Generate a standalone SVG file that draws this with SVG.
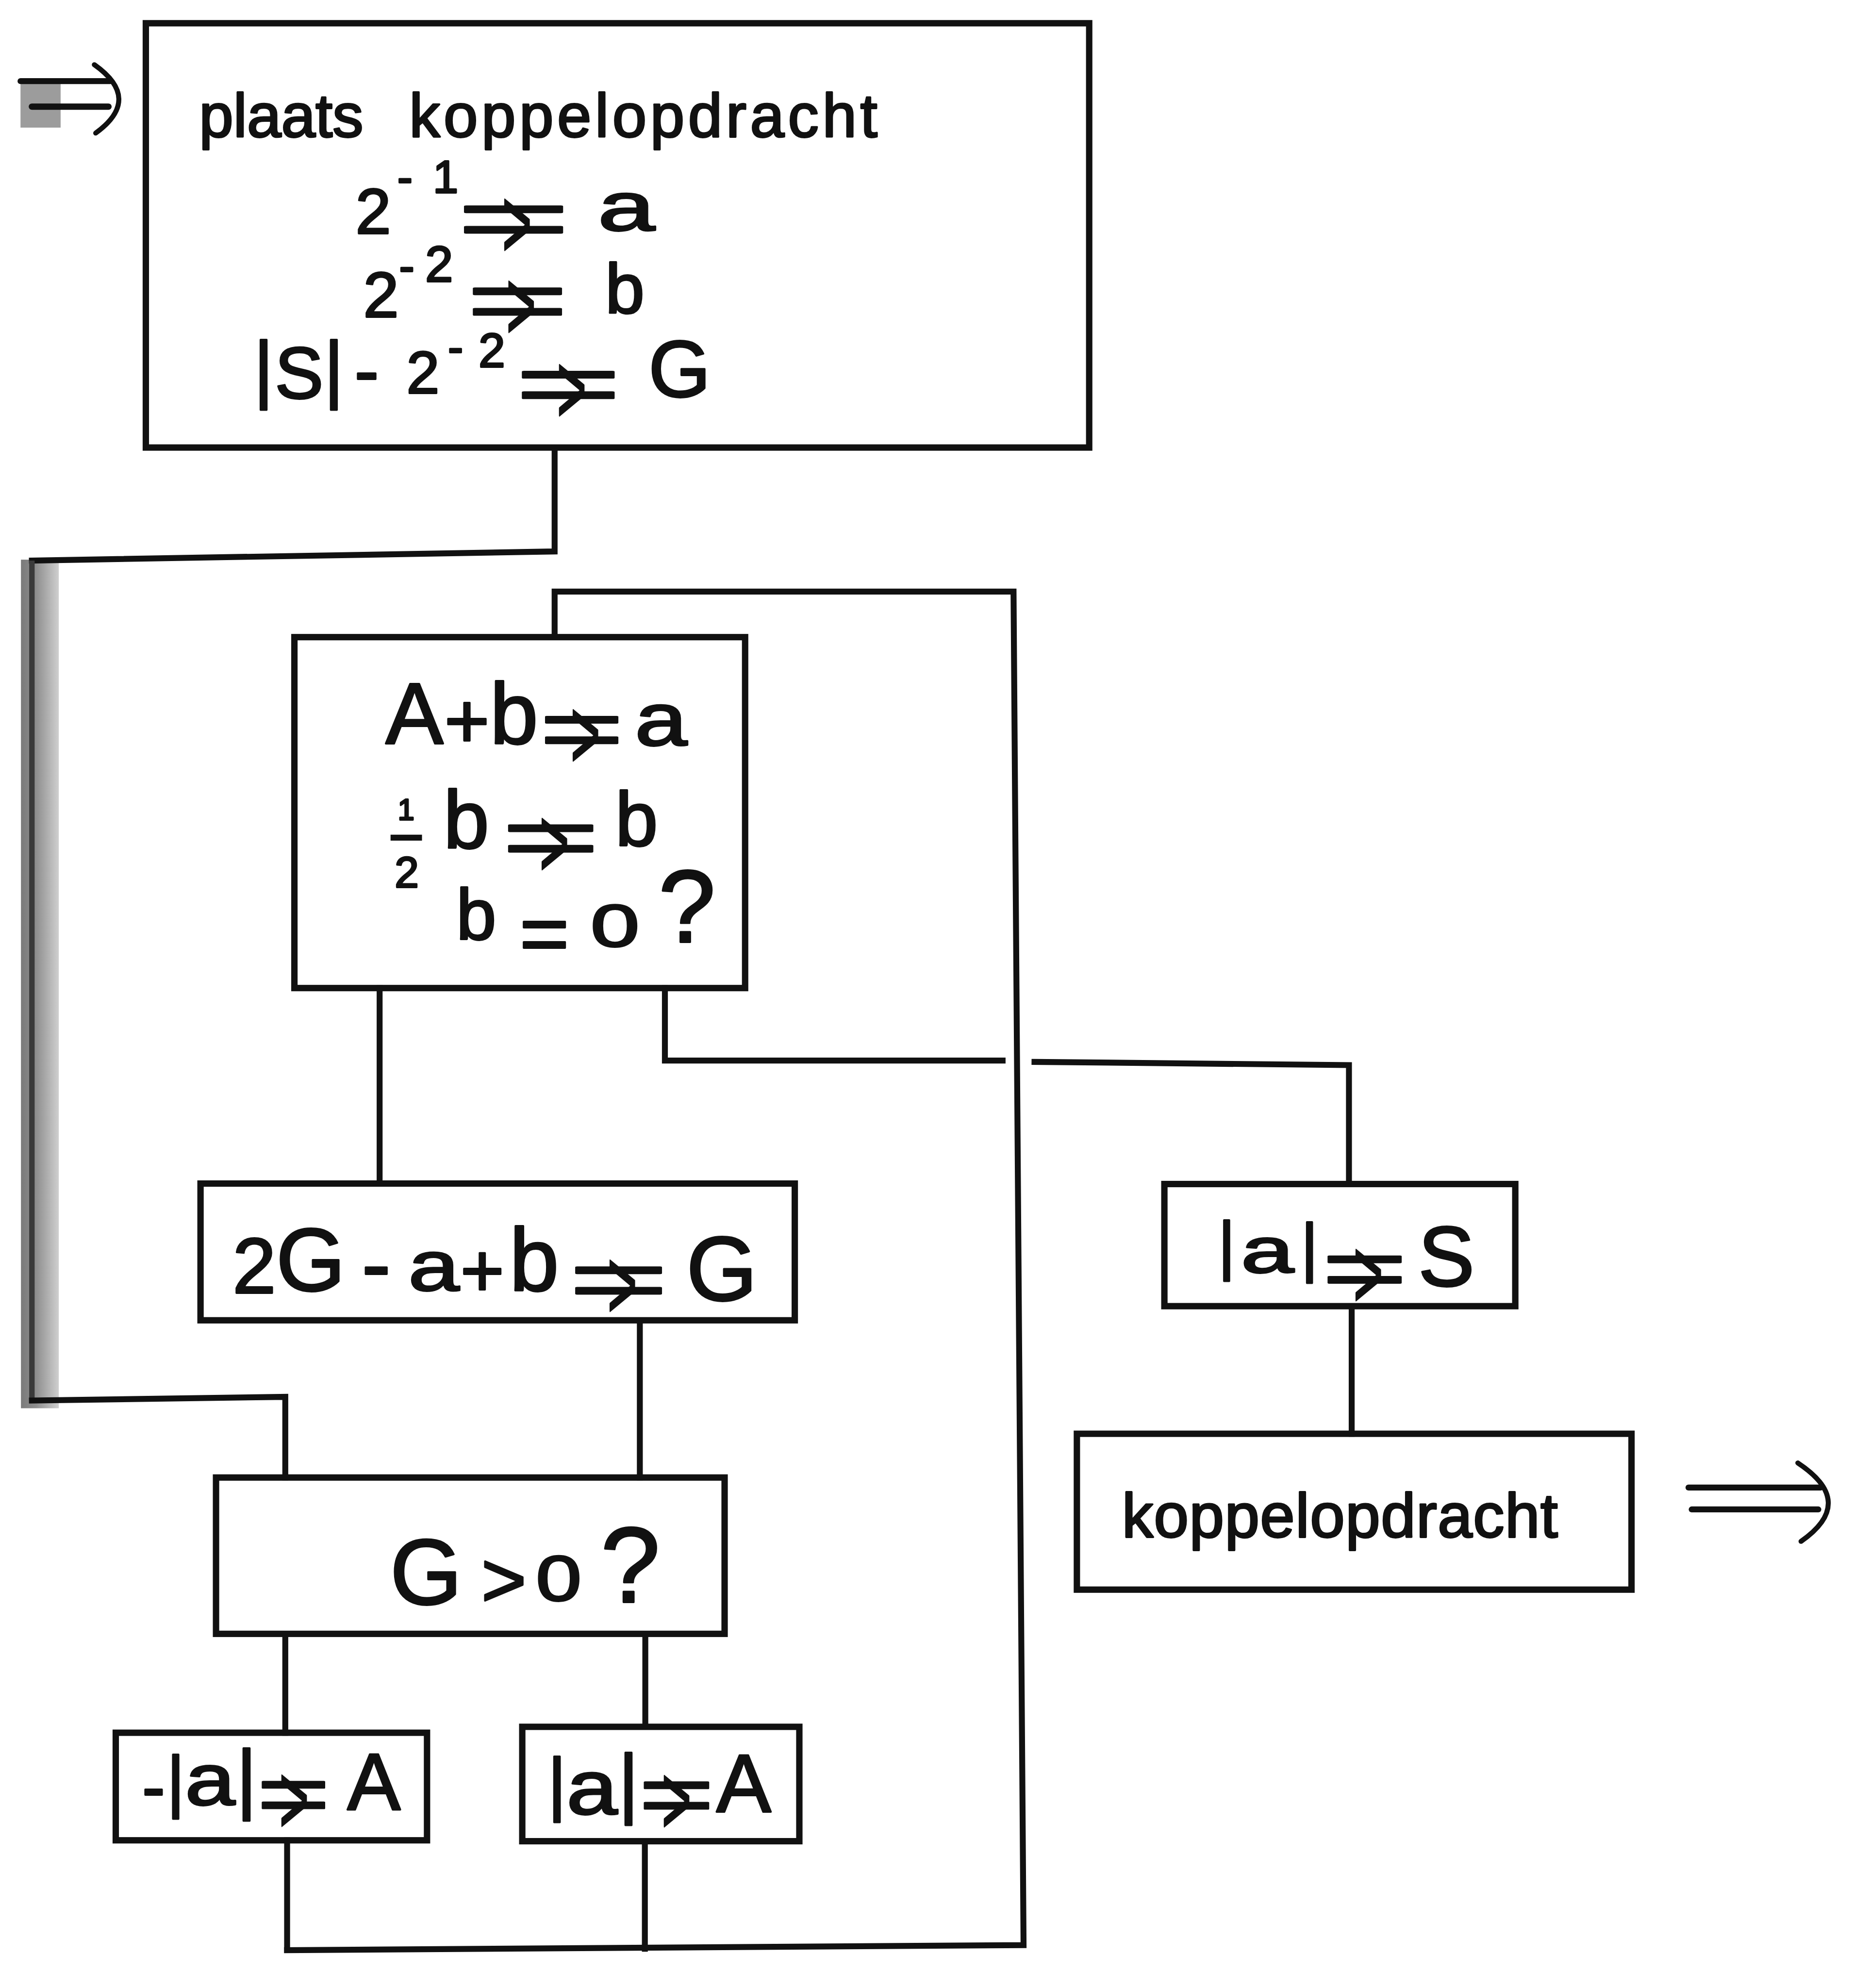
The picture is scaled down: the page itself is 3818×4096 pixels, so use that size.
<svg xmlns="http://www.w3.org/2000/svg" width="3818" height="4096" viewBox="0 0 3818 4096">
  <defs>
    <linearGradient id="edgeShade" x1="0" y1="0" x2="1" y2="0">
      <stop offset="0" stop-color="#7a7a7a"/>
      <stop offset="0.4" stop-color="#8e8e8e"/>
      <stop offset="1" stop-color="#cfcfcf"/>
    </linearGradient>
    <style>
      .box { fill: none; stroke: #111; stroke-width: 14; }
      .wire { fill: none; stroke: #111; stroke-width: 13; stroke-linecap: square; stroke-linejoin: miter; }
      .arrow { fill: none; stroke: #111; stroke-linecap: round; }
      .rule { stroke: #111; stroke-width: 13; }
      .t { font-family: "Liberation Sans", Arial, sans-serif; fill: #111; stroke: #111; stroke-width: 4; stroke-linejoin: round; }
    </style>
  </defs>

  <rect x="0" y="0" width="3818" height="4096" fill="#ffffff"/>

  <!-- drawing laid out in page units, reduced to the window -->
  <g transform="scale(0.939)">

    <!-- connectors -->
    <g id="connectors">
      <!-- shaded strip along the left margin -->
      <rect x="46" y="1228" width="83" height="1862" fill="url(#edgeShade)"/>
      <!-- entry arrow -->
      <rect x="45" y="183" width="88" height="97" fill="#9c9c9c"/>
      <path class="arrow" d="M45 178 H242" stroke-width="13" stroke-linecap="butt"/>
      <path class="arrow" d="M70 234 H238" stroke-width="14" stroke-linecap="butt"/>
      <path class="arrow" d="M207 142 Q313 217 210 292" stroke-width="11"/>

      <!-- initial box down the left margin into the test box -->
      <path class="wire" d="M1217 982 V1210 L70 1230"/>
      <path d="M70 1230 V3073" fill="none" stroke="#3a3a3a" stroke-width="12"/>
      <path class="wire" d="M70 3073 L626 3065 V3242"/>

      <!-- loop back to the top of the step box -->
      <path class="wire" d="M1217 1398 V1298 H2224 L2246 4268 L630 4279"/>
      <path class="wire" d="M630 4038 V4279"/>
      <path class="wire" d="M1415 4040 V4276"/>

      <!-- step box to update box -->
      <path class="wire" d="M833 2168 V2597"/>
      <!-- step box exit, crossing the loop line -->
      <path class="wire" d="M1459 2168 V2327 H2200"/>
      <path class="wire" d="M2270 2330 L2960 2337 V2598"/>

      <!-- update box to test box -->
      <path class="wire" d="M1404 2897 V3242"/>
      <!-- test box to its two branches -->
      <path class="wire" d="M626 3585 V3802"/>
      <path class="wire" d="M1416 3585 V3789"/>

      <!-- store box to exit box -->
      <path class="wire" d="M2966 2866 V3146"/>

      <!-- exit arrow -->
      <path class="arrow" d="M3705 3264 H3995" stroke-width="13" stroke-linecap="butt"/>
      <path class="arrow" d="M3712 3312 H3990" stroke-width="13" stroke-linecap="butt"/>
      <path class="arrow" d="M3945 3210 Q4075 3296 3952 3382" stroke-width="11"/>
    </g>

    <!-- plaats koppelopdracht -->
    <g id="n-init">
      <rect class="box" x="320" y="51" width="2070" height="931"/>
      <text class="t">
        <tspan x="437" y="300" font-size="135">plaats</tspan>
        <tspan x="898" y="300" font-size="135" letter-spacing="8">koppelopdracht</tspan>
        <tspan x="780" y="512" font-size="140">2</tspan><tspan x="872" y="423" font-size="100">-</tspan><tspan x="950" y="423" font-size="100">1</tspan>
        <tspan x="1002" y="541" font-size="180" textLength="250" lengthAdjust="spacingAndGlyphs">=</tspan><tspan x="1102" y="566" font-size="220" textLength="65" lengthAdjust="spacingAndGlyphs">&gt;</tspan>
        <tspan x="1312" y="506" font-size="150" textLength="125" lengthAdjust="spacingAndGlyphs">a</tspan>
        <tspan x="797" y="695" font-size="140">2</tspan><tspan x="876" y="618" font-size="100">-</tspan><tspan x="933" y="618" font-size="110">2</tspan>
        <tspan x="1023" y="721" font-size="180" textLength="225" lengthAdjust="spacingAndGlyphs">=</tspan><tspan x="1111" y="746" font-size="220" textLength="65" lengthAdjust="spacingAndGlyphs">&gt;</tspan>
        <tspan x="1328" y="687" font-size="155">b</tspan>
        <tspan x="557" y="865" font-size="165">|</tspan><tspan x="603" y="874" font-size="160">S</tspan><tspan x="711" y="865" font-size="165">|</tspan>
        <tspan x="778" y="868" font-size="160">-</tspan>
        <tspan x="892" y="863" font-size="130">2</tspan><tspan x="983" y="795" font-size="100">-</tspan><tspan x="1050" y="805" font-size="105">2</tspan>
        <tspan x="1130" y="904" font-size="180" textLength="234" lengthAdjust="spacingAndGlyphs">=</tspan><tspan x="1222" y="929" font-size="220" textLength="65" lengthAdjust="spacingAndGlyphs">&gt;</tspan>
        <tspan x="1423" y="870" font-size="175">G</tspan>
      </text>
    </g>

    <!-- A+b => a ; 1/2 b => b ; b = 0 ? -->
    <g id="n-step">
      <rect class="box" x="646" y="1398" width="989" height="770"/>
      <line class="rule" x1="857" y1="1838" x2="926" y2="1838"/>
      <text class="t">
        <tspan x="846" y="1631" font-size="190">A</tspan><tspan x="975" y="1640" font-size="170">+</tspan><tspan x="1075" y="1631" font-size="190">b</tspan>
        <tspan x="1184" y="1661" font-size="180" textLength="185" lengthAdjust="spacingAndGlyphs">=</tspan><tspan x="1252" y="1686" font-size="220" textLength="65" lengthAdjust="spacingAndGlyphs">&gt;</tspan>
        <tspan x="1393" y="1636" font-size="165" textLength="115" lengthAdjust="spacingAndGlyphs">a</tspan>
        <tspan x="873" y="1799" font-size="65">1</tspan><tspan x="866" y="1947" font-size="95">2</tspan>
        <tspan x="973" y="1860" font-size="180">b</tspan>
        <tspan x="1101" y="1899" font-size="180" textLength="215" lengthAdjust="spacingAndGlyphs">=</tspan><tspan x="1184" y="1924" font-size="220" textLength="65" lengthAdjust="spacingAndGlyphs">&gt;</tspan>
        <tspan x="1350" y="1855" font-size="168">b</tspan>
        <tspan x="1001" y="2062" font-size="158">b</tspan>
        <tspan x="1140" y="2110" font-size="180" textLength="109" lengthAdjust="spacingAndGlyphs">=</tspan>
        <tspan x="1296" y="2077" font-size="130" textLength="107" lengthAdjust="spacingAndGlyphs">0</tspan>
        <tspan x="1445" y="2067" font-size="225">?</tspan>
      </text>
    </g>

    <!-- 2G - a + b => G -->
    <g id="n-update">
      <rect class="box" x="440" y="2597" width="1304" height="300"/>
      <text class="t">
        <tspan x="510" y="2837" font-size="172">2</tspan><tspan x="606" y="2832" font-size="195">G</tspan>
        <tspan x="794" y="2838" font-size="190">-</tspan>
        <tspan x="896" y="2832" font-size="155" textLength="112" lengthAdjust="spacingAndGlyphs">a</tspan><tspan x="1010" y="2845" font-size="165">+</tspan><tspan x="1118" y="2832" font-size="195">b</tspan>
        <tspan x="1248" y="2869" font-size="180" textLength="219" lengthAdjust="spacingAndGlyphs">=</tspan><tspan x="1333" y="2894" font-size="220" textLength="65" lengthAdjust="spacingAndGlyphs">&gt;</tspan>
        <tspan x="1506" y="2853" font-size="200">G</tspan>
      </text>
    </g>

    <!-- G > 0 ? -->
    <g id="n-test">
      <rect class="box" x="474" y="3242" width="1116" height="343"/>
      <text class="t">
        <tspan x="856" y="3520" font-size="203">G</tspan>
        <tspan x="1056" y="3525" font-size="170">&gt;</tspan>
        <tspan x="1176" y="3512" font-size="140" textLength="100" lengthAdjust="spacingAndGlyphs">0</tspan>
        <tspan x="1318" y="3515" font-size="235">?</tspan>
      </text>
    </g>

    <!-- -|a| => A -->
    <g id="n-neg">
      <rect class="box" x="254" y="3802" width="683" height="236"/>
      <text class="t">
        <tspan x="312" y="3972" font-size="150">-</tspan><tspan x="366" y="3958" font-size="150">|</tspan><tspan x="406" y="3961" font-size="160" textLength="110" lengthAdjust="spacingAndGlyphs">a</tspan><tspan x="519" y="3959" font-size="170">|</tspan>
        <tspan x="564" y="3998" font-size="180" textLength="160" lengthAdjust="spacingAndGlyphs">=</tspan><tspan x="613" y="4023" font-size="220" textLength="65" lengthAdjust="spacingAndGlyphs">&gt;</tspan>
        <tspan x="762" y="3970" font-size="175">A</tspan>
      </text>
    </g>

    <!-- |a| => A -->
    <g id="n-pos">
      <rect class="box" x="1146" y="3789" width="608" height="251"/>
      <text class="t">
        <tspan x="1202" y="3966" font-size="155">|</tspan><tspan x="1243" y="3980" font-size="168" textLength="112" lengthAdjust="spacingAndGlyphs">a</tspan><tspan x="1357" y="3969" font-size="170">|</tspan>
        <tspan x="1402" y="3999" font-size="180" textLength="165" lengthAdjust="spacingAndGlyphs">=</tspan><tspan x="1452" y="4024" font-size="220" textLength="65" lengthAdjust="spacingAndGlyphs">&gt;</tspan>
        <tspan x="1572" y="3976" font-size="180">A</tspan>
      </text>
    </g>

    <!-- |a| => S -->
    <g id="n-store">
      <rect class="box" x="2555" y="2598" width="770" height="268"/>
      <text class="t">
        <tspan x="2673" y="2781" font-size="143">|</tspan><tspan x="2723" y="2792" font-size="140" textLength="116" lengthAdjust="spacingAndGlyphs">a</tspan><tspan x="2855" y="2785" font-size="143">|</tspan>
        <tspan x="2901" y="2845" font-size="180" textLength="187" lengthAdjust="spacingAndGlyphs">=</tspan><tspan x="2970" y="2870" font-size="220" textLength="65" lengthAdjust="spacingAndGlyphs">&gt;</tspan>
        <tspan x="3112" y="2821" font-size="185">S</tspan>
      </text>
    </g>

    <!-- koppelopdracht -->
    <g id="n-exit">
      <rect class="box" x="2363" y="3146" width="1217" height="342"/>
      <text class="t" x="2462" y="3373" font-size="137" letter-spacing="1.5">koppelopdracht</text>
    </g>
  </g>
</svg>
